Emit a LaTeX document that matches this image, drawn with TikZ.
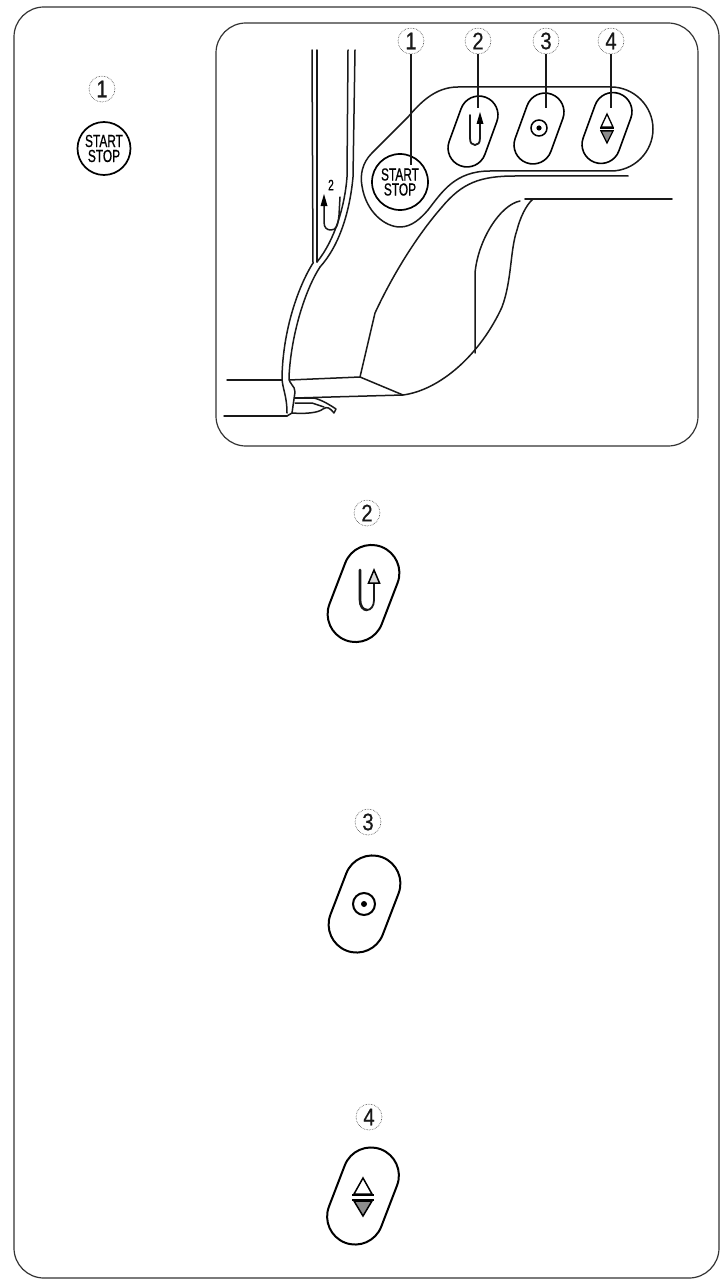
\documentclass[tikz,border=0pt]{standalone}
\usepackage{fontspec}
\setmainfont{Liberation Sans}
\newfontfamily\condf[FakeStretch=0.68,FakeBold=0.6]{Liberation Sans}
\newfontfamily\digf[FakeStretch=0.85,FakeBold=0.4]{Liberation Sans}
\usetikzlibrary{shapes.misc}
\tikzset{
  ink/.style={line width=1.5pt,black!90,line join=round,line cap=round},
  frameline/.style={line width=1.2pt,black!80},
  numlabel/.style={circle,draw=black!75,densely dotted,line width=0.6pt,minimum size=26pt,inner sep=0pt,text=black!90,font=\digf\fontsize{24}{24}\selectfont},
  pillsmall/.style={rounded rectangle,draw=black,line width=1.6pt,rotate=70,minimum width=73pt,minimum height=38pt,inner sep=0pt},
  pillbig/.style={rounded rectangle,draw=black,line width=2pt,rotate=69,minimum width=100pt,minimum height=56pt,inner sep=0pt},
  startbtn/.style={circle,draw=black,line width=1.7pt,inner sep=0pt,align=center,font=\condf\fontsize{17.5}{15}\selectfont},
  leader/.style={line width=1.5pt,black!90},
}
\begin{document}
\begin{tikzpicture}[x=1pt,y=-1pt]
\useasboundingbox (0,0) rectangle (726,1284);
% outer frame and inner panel
\draw[frameline,rounded corners=30pt] (14,7) rectangle (719,1278);
\draw[frameline,rounded corners=30pt] (216,23) rectangle (698,446);
% left start/stop
\node[numlabel] (leftone) at (102,89) {1};
\node[startbtn,minimum size=53pt] (leftstart) at (104,148.5) {START\\STOP};
% console outline
\draw[ink] (611,87) -- (458,87) .. controls (435,87) and (420,103) .. (408,117)
  -- (372,153) .. controls (362,163) and (360,175) .. (362,186)
  .. controls (366,212) and (385,227) .. (400,227)
  .. controls (412,227) and (421,218) .. (428,210)
  .. controls (442,192) and (455,171) .. (490,171) -- (611,171)
  .. controls (634,171) and (653,152) .. (653,129)
  .. controls (653,106) and (634,87) .. (611,87);
% arm curve and lower arm
\draw[ink] (628,176) -- (515,176) .. controls (480,176) and (462,183) .. (442,207)
  .. controls (420,232) and (395,270) .. (375,313)
  -- (360,377) -- (403,395)
  .. controls (440,390) and (480,355) .. (502,307)
  .. controls (512,280) and (510,250) .. (517,230)
  .. controls (520,218) and (526,205) .. (533,199);
\draw[ink,line width=1.9pt] (525,199) -- (672,199);
\draw[ink] (520,201) .. controls (500,205) and (478,240) .. (475,273) -- (475,353);
\draw[ink] (227,380) -- (282,380);
\draw[ink] (289,380) -- (360,377);
\draw[ink] (224,416) -- (287,416);
\draw[ink] (295,398) -- (403,395);
% needle bar / front
\draw[ink] (312,50) -- (313,263);
\draw[ink] (317,50) -- (317,262);
\draw[ink] (348,50) -- (347,177) .. controls (345,205) and (335,240) .. (317,262);
\draw[ink] (355,50) -- (353,177) .. controls (350,210) and (340,245) .. (320,267);
\draw[ink] (313,263) .. controls (298,287) and (283,330) .. (282,377)
  .. controls (282,388) and (287,395) .. (287,413);
\draw[ink] (320,267) .. controls (305,290) and (291,335) .. (289,377)
  .. controls (289,385) and (295,385) .. (295,392) -- (292,413) -- (287,416);
% foot
\draw[ink] (295,398) -- (314,398) .. controls (322,400) and (330,405) .. (336,409) -- (334,413)
  .. controls (330,408) and (327,406) .. (323,409) .. controls (318,413) and (305,414) .. (292,413);
\draw[ink] (295,403) -- (312,403) -- (324,407);
% small marking on the arm
\node[font=\condf\fontsize{15}{15}\selectfont] (armtwo) at (331,185) {2};
\draw[ink] (324,203) -- (324,222) .. controls (324,228) and (327,230) .. (331,230)
  .. controls (336,230) and (338,226) .. (339,215) -- (340,197);
\fill[black] (324,194) -- (320.5,206) -- (327.5,206) -- cycle;
% panel buttons
\node[startbtn,minimum size=56pt] (panelstart) at (400,182) {START\\STOP};
\node[pillsmall] (paneltwo) at (473,131.5) {};
\node[pillsmall] (panelthree) at (539,128.5) {};
\node[pillsmall] (panelfour) at (607,128) {};
% panel icons
\draw[ink,line width=1.8pt] (470,115) -- (470,138) .. controls (470,143) and (472,145) .. (475,145)
  .. controls (478,145) and (480,143) .. (480,138) -- (480,122);
\fill[black] (480,112) -- (476.5,124) -- (483.5,124) -- cycle;
\node[circle,draw=black,line width=1.5pt,minimum size=16pt,inner sep=0pt] (panelring) at (539,128) {};
\fill[black] (panelring.center) circle (2.6pt);
\draw[line width=1.3pt,line join=miter] (607,114) -- (601,127) -- (613,127) -- cycle;
\fill[black!45,draw=black,line width=1.3pt] (607,143) -- (601,131) -- (613,131) -- cycle;
\draw[line width=1.6pt] (600,128) -- (614,128);
\draw[line width=1.6pt] (600,130.5) -- (614,130.5);
% panel labels and leaders
\node[numlabel] (pone) at (411,41) {1};
\node[numlabel] (ptwo) at (478,41) {2};
\node[numlabel] (pthree) at (546,41) {3};
\node[numlabel] (pfour) at (611,41) {4};
\coordinate (endone) at (411,165);
\coordinate (endtwo) at (478,108);
\coordinate (endthree) at (546,108);
\coordinate (endfour) at (611,108);
\draw[leader] (pone) -- (endone);
\draw[leader] (ptwo) -- (endtwo);
\draw[leader] (pthree) -- (endthree);
\draw[leader] (pfour) -- (endfour);
% big button 2
\node[numlabel] (bigtwolabel) at (367,513) {2};
\node[pillbig] (bigtwo) at (363.5,593.5) {};
\draw[ink,line width=2.6pt] (360,570) -- (360,600) .. controls (360,606) and (363,610) .. (367,610);
\draw[ink,line width=1.8pt] (367,610) .. controls (371,610) and (374,606) .. (374,600) -- (374,580);
\fill[black!15,draw=black,line width=1.5pt] (374,570) -- (368.5,583) -- (379.5,583) -- cycle;
% big button 3
\node[numlabel] (bigthreelabel) at (368,822) {3};
\node[pillbig] (bigthree) at (364.5,904) {};
\node[circle,draw=black,line width=2pt,minimum size=22pt,inner sep=0pt] (bigring) at (364,904) {};
\fill[black] (bigring.center) circle (3pt);
% big button 4
\node[numlabel] (bigfourlabel) at (369,1117) {4};
\node[pillbig] (bigfour) at (363,1196) {};
\draw[line width=1.5pt,line join=miter] (363,1178) -- (354,1194) -- (372,1194) -- cycle;
\fill[black!45,draw=black,line width=1.5pt] (363,1216) -- (354,1201) -- (372,1201) -- cycle;
\draw[line width=1.9pt] (352,1195) -- (374,1195);
\draw[line width=1.9pt] (352,1200) -- (374,1200);
\end{tikzpicture}
\end{document}
